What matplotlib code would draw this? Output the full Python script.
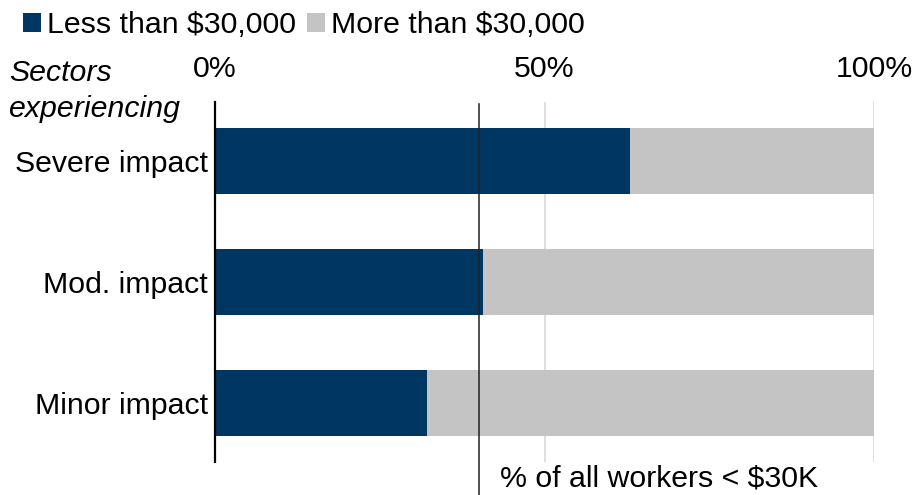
import numpy as np
from matplotlib import rcParams
rcParams['font.family'] = ['Liberation Sans', 'DejaVu Sans']
import matplotlib.pyplot as plt

sectors = ["Severe impact", "Mod. impact", "Minor impact"]
under_30k = [62.9, 40.6, 32.1]
over_30k = [100 - v for v in under_30k]
all_workers_under_30k = 40.0
ticks = [0, 50, 100]
tick_labels = ["0%", "50%", "100%"]

dark = '#003662'
grey = '#C4C4C4'
fs = 21.8

fig = plt.figure(figsize=(9.13, 4.95), dpi=100)
ax = fig.add_axes([0.2355, 0.0667, 0.7218, 0.7273])

y = np.arange(len(sectors))
ax.barh(y, under_30k, height=0.55, color=dark, label='Less than $30,000')
ax.barh(y, over_30k, left=under_30k, height=0.55, color=grey, label='More than $30,000')

ax.set_xlim(0, 100)
ax.set_ylim(2.49, -0.49)
ax.set_yticks(y)
ax.set_yticklabels(sectors, fontsize=fs)
ax.tick_params(axis='y', length=0, pad=5)

ax.xaxis.tick_top()
ax.set_xticks(ticks)
ax.set_xticklabels(tick_labels, fontsize=fs)
ax.tick_params(axis='x', length=0, pad=14)
ax.grid(axis='x', color='#D9D9D9', linewidth=1.2)
ax.set_axisbelow(True)

for side in ['top', 'right', 'bottom']:
    ax.spines[side].set_visible(False)
ax.spines['left'].set_linewidth(1.6)
ax.spines['left'].set_color('black')

# reference line for share of all workers, running past the plot bottom
ax.plot([all_workers_under_30k, all_workers_under_30k], [-0.47, 2.78],
        color='#222222', linewidth=1.1, clip_on=False, zorder=3)
ax.text(43.2, 2.63, '% of all workers < $30K', fontsize=fs, va='center', ha='left')

fig.text(0.010, 0.853, 'Sectors', fontsize=fs, style='italic', va='center')
fig.text(0.010, 0.780, 'experiencing', fontsize=fs, style='italic', va='center')

fig.legend(loc='upper left', bbox_to_anchor=(0.012, 1.002), ncol=2, frameon=False,
           fontsize=fs, handlelength=0.6, handleheight=0.6, handletextpad=0.2,
           columnspacing=0.35, borderaxespad=0)

fig.savefig('out.png', dpi=100)
